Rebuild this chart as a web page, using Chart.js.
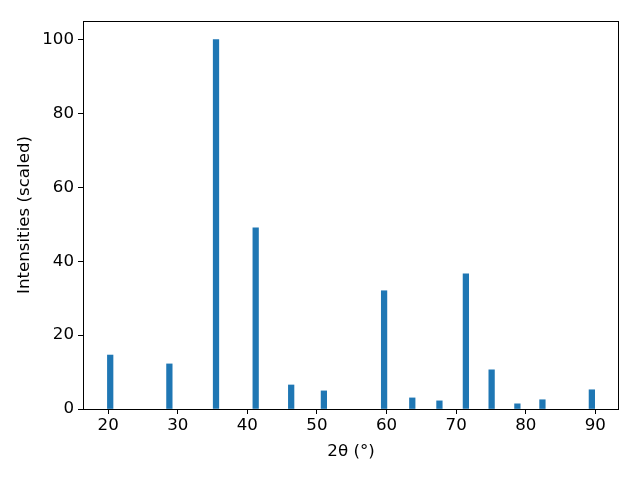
<!DOCTYPE html>
<html>
<head>
<meta charset="utf-8">
<script src="https://cdn.jsdelivr.net/npm/chart.js@4/dist/chart.umd.min.js"></script>
<style>
  html, body { margin: 0; padding: 0; background: #fff; }
  #wrap { width: 640px; height: 480px; }
</style>
</head>
<body>
<div id="wrap"><canvas id="chart" width="640" height="480"></canvas></div>
<script>
// peak positions (2theta) and scaled intensities
const twoTheta = [20.3, 28.8, 35.5, 41.2, 46.3, 51.0, 59.65, 63.7, 67.6, 71.4, 75.1, 78.8, 82.4, 89.5];
const intensity = [14.6, 12.2, 100, 49.0, 6.5, 4.9, 32.0, 3.0, 2.2, 36.6, 10.6, 1.4, 2.5, 5.2];
const xTicks = [20, 30, 40, 50, 60, 70, 80, 90];
const yTicks = [0, 20, 40, 60, 80, 100];

const ctx = document.getElementById("chart").getContext('2d');
const font = { family: "'DejaVu Sans', sans-serif", size: 16.67 };

// matplotlib draws a full box round the axes
const frame = {
    id: 'frame',
    afterDraw(chart) {
        const a = chart.chartArea;
        const c = chart.ctx;
        c.save();
        c.strokeStyle = '#000';
        c.lineWidth = 1;
        c.strokeRect(a.left + 0.5, a.top + 0.5, a.right - a.left - 1, a.bottom - a.top);
        c.restore();
    }
};

const points = twoTheta.map((x, i) => ({ x: x, y: intensity[i] }));

const myChart = new Chart(ctx, {
    type: 'bar',
    data: {
        datasets: [{
            data: points,
            backgroundColor: '#1f77b4',
            borderWidth: 0,
            barThickness: 5.6,
        }]
    },
    options: {
        responsive: false,
        animation: false,
        layout: { padding: { left: 0, top: 21, right: 21, bottom: 0 } },
        plugins: { legend: { display: false }, tooltip: { enabled: false } },
        scales: {
            x: {
                type: 'linear',
                min: 16.39,
                max: 93.4,
                offset: false,
                afterFit: (scale) => { scale.height = 71; },
                afterBuildTicks: (scale) => { scale.ticks = xTicks.map(v => ({ value: v })); },
                grid: { offset: false, drawOnChartArea: false, tickLength: 5, tickColor: '#000', color: '#000' },
                border: { display: false },
                ticks: { color: '#000', font: font, padding: 2, maxRotation: 0 },
                title: { display: true, text: '2θ (°)', color: '#000', font: font, padding: { top: 0, bottom: 18 } }
            },
            y: {
                min: 0,
                max: 105,
                afterFit: (scale) => { scale.width = 83; },
                afterBuildTicks: (scale) => { scale.ticks = yTicks.map(v => ({ value: v })); },
                grid: { drawOnChartArea: false, tickLength: 5, tickColor: '#000', color: '#000' },
                border: { display: false },
                ticks: { color: '#000', font: font, padding: 4 },
                title: { display: true, text: 'Intensities (scaled)', color: '#000', font: font, padding: { top: 15, bottom: 0 } }
            }
        }
    },
    plugins: [frame]
});
</script>
</body>
</html>
